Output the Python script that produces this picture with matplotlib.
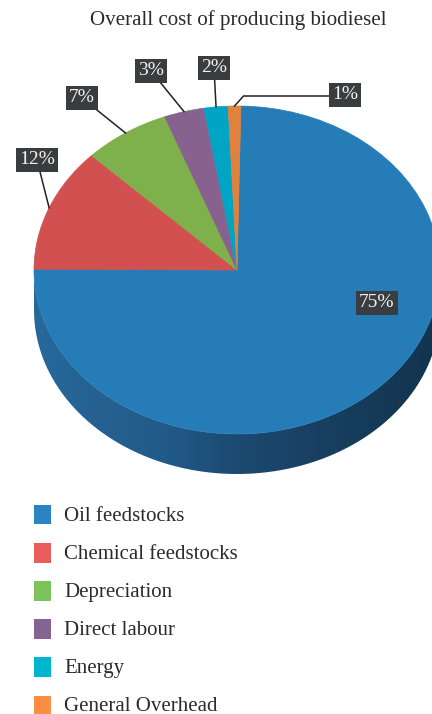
import numpy as np
import matplotlib
matplotlib.use('Agg')
import matplotlib.pyplot as plt
from matplotlib.colors import LinearSegmentedColormap
from matplotlib.legend_handler import HandlerPatch
from matplotlib.patches import Patch, PathPatch
from matplotlib.path import Path

plt.rcParams['font.family'] = ['Liberation Serif', 'DejaVu Serif']

title = 'Overall cost of producing biodiesel'
categories = ['Oil feedstocks', 'Chemical feedstocks', 'Depreciation',
              'Direct labour', 'Energy', 'General Overhead']
values = [74.7, 12.2, 6.9, 3.2, 1.9, 1.0]
labels = ['75%', '12%', '7%', '3%', '2%', '1%']

pie_colors = ['#267cb7', '#d25050', '#7eb04c', '#87628f', '#00a5c4', '#e0813e']
legend_colors = ['#2a84c4', '#ea5b5b', '#7dc35c', '#856493', '#00b6cf', '#fb8d47']

W, H = 432, 714
cx, cy, rx, ry = 237, 270, 203, 164
depth = 40 / ry

# label box centres in pixels
label_px = [(377, 303), (37, 160), (82, 98), (151, 71), (214, 68), (345, 95)]


def px(x, y):
    return (x - cx) / rx, (cy - y) / ry


fig = plt.figure(figsize=(W / 100, H / 100), dpi=100)
ax = fig.add_axes([0, 0, 1, 1])

wedges, _ = ax.pie(values, colors=pie_colors, startangle=88.9, counterclock=False,
                   wedgeprops={'linewidth': 0, 'zorder': 3})
# close the hairline seams between slices
for w, c in zip(wedges, pie_colors):
    w.set_edgecolor(c)
    w.set_linewidth(0.5)

# side wall of the fake 3d pie
t = np.linspace(np.pi, 2 * np.pi, 200)
top = np.column_stack([np.cos(t), np.sin(t)])
bottom = top[::-1] - [0, depth]
wall = Path(np.vstack([top, bottom, top[:1]]))
cmap = LinearSegmentedColormap.from_list('wall', [(0, '#28689b'), (0.33, '#215a88'), (0.49, '#1c4a72'),
                                                  (0.65, '#1a4265'), (0.85, '#153a58'), (1, '#12334d')])
img = ax.imshow(np.linspace(0, 1, 256).reshape(1, -1), cmap=cmap, aspect='auto',
                extent=(-1, 1, -1 - depth, 0), zorder=2)
clip = PathPatch(wall, transform=ax.transData, facecolor='none', edgecolor='none')
ax.add_patch(clip)
img.set_clip_path(clip)

ax.set_aspect('auto')
ax.set_xlim(-cx / rx, (W - cx) / rx)
ax.set_ylim((cy - H) / ry, cy / ry)
ax.axis('off')

box = {'boxstyle': 'square,pad=0.16', 'facecolor': '#3a3d40', 'edgecolor': 'none'}
for i, (w, lab, pos) in enumerate(zip(wedges, labels, label_px)):
    xy = px(*pos)
    if i > 0:
        mid = np.deg2rad((w.theta1 + w.theta2) / 2)
        edge = (np.cos(mid), np.sin(mid))
        if i == len(labels) - 1:
            # last one has an elbow
            knee = ((edge[0] + 9 / rx), px(0, 96)[1])
            ax.plot([edge[0], knee[0], xy[0]], [edge[1], knee[1], knee[1]], color='#222222', lw=1.1, zorder=4)
        else:
            ax.plot([xy[0], edge[0]], [xy[1], edge[1]], color='#222222', lw=1.1, zorder=4)
    ax.text(*xy, lab, color='#f2f2f2', fontsize=14, ha='center', va='center', bbox=box, zorder=6)

fig.text(238 / W, 1 - 20 / H, title, fontsize=15.1, color='#2b2b2b', ha='center', va='center')

handles = [Patch(facecolor=c, edgecolor='none') for c in legend_colors]
fig.legend(handles, categories, loc='upper left', bbox_to_anchor=(25.7 / W, 1 - 497 / H),
           frameon=False, fontsize=15, labelcolor='#2b2b2b', handlelength=0.82, handleheight=0.82,
           handletextpad=0.62, labelspacing=0.85, borderpad=0.4, borderaxespad=0,
           handler_map={Patch: HandlerPatch(ypad=-0.14)})

fig.savefig('out.png', dpi=100)
